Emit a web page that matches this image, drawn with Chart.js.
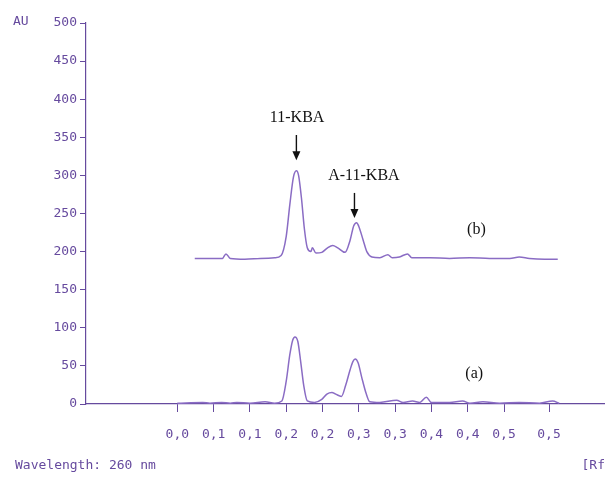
<!DOCTYPE html>
<html>
<head>
<meta charset="utf-8">
<script src="https://cdn.jsdelivr.net/npm/chart.js@4"></script>
<style>
  html, body { margin: 0; padding: 0; background: #fff; }
  #wrap { width: 605px; height: 477px; position: relative; }
</style>
</head>
<body>
<div id="wrap"><canvas id="densChart"></canvas></div>
<script>
// --- Data (Rf vs absorbance units) ---
const rfB = [0.024, 0.045, 0.062, 0.067, 0.073, 0.093, 0.114, 0.134, 0.143, 0.150, 0.155, 0.160, 0.164, 0.167, 0.171, 0.175, 0.179, 0.184, 0.186, 0.191, 0.199, 0.207, 0.214, 0.221, 0.231, 0.238, 0.243, 0.247, 0.250, 0.256, 0.261, 0.268, 0.279, 0.290, 0.296, 0.306, 0.317, 0.323, 0.348, 0.375, 0.403, 0.430, 0.458, 0.471, 0.485, 0.506, 0.524];
const auB = [191, 191, 191, 197, 191, 190, 191, 192, 195, 220, 262, 298, 306, 300, 270, 230, 205, 200, 205, 198, 199, 205, 208, 205, 199, 215, 234, 238, 233, 215, 200, 193, 192, 196, 192, 193, 197, 192, 192, 191, 192, 191, 191, 193, 191, 190, 190];

const rfA = [0.000, 0.035, 0.045, 0.061, 0.073, 0.082, 0.100, 0.121, 0.134, 0.144, 0.150, 0.155, 0.159, 0.162, 0.166, 0.170, 0.174, 0.179, 0.189, 0.199, 0.206, 0.213, 0.218, 0.226, 0.232, 0.238, 0.242, 0.245, 0.249, 0.254, 0.260, 0.265, 0.279, 0.302, 0.311, 0.324, 0.334, 0.343, 0.350, 0.375, 0.393, 0.403, 0.421, 0.444, 0.471, 0.499, 0.517, 0.526];
const auA = [1, 2, 1, 2, 1, 2, 1, 3, 1, 4, 30, 65, 84, 88, 82, 55, 25, 4, 2, 6, 13, 15, 13, 10, 25, 45, 56, 59, 54, 35, 14, 3, 2, 5, 2, 4, 2, 9, 2, 2, 4, 1, 3, 1, 2, 1, 4, 1];

const xTickVals = [0, 0.05, 0.10, 0.15, 0.20, 0.25, 0.30, 0.35, 0.40, 0.45, 0.512];
const xTickLabels = ['0,0', '0,1', '0,1', '0,2', '0,2', '0,3', '0,3', '0,4', '0,4', '0,5', '0,5'];

// peak labels with arrows: [text, x, y, arrowX, arrowTop, arrowBottom] in Rf / AU
const peakLabels = [
    ['11-KBA', 0.165, 375, 0.164, 353, 320],
    ['A-11-KBA', 0.257, 300, 0.244, 277, 244]
];
const traceLabels = [['(b)', 0.412, 228], ['(a)', 0.409, 39]];

const ink = '#664a9e';
const traceColor = '#8a6cc4';
const mono = 'DejaVu Sans Mono';

// --- Extra text and arrows ---
const annotate = {
    id: 'annotate',
    afterDatasetsDraw(chart) {
        const { ctx, scales: { x, y } } = chart;
        ctx.save();
        ctx.fillStyle = '#111';
        ctx.strokeStyle = '#111';
        ctx.font = '16px "Liberation Serif", "Times New Roman", serif';
        ctx.textAlign = 'center';
        ctx.textBaseline = 'middle';
        peakLabels.forEach(([txt, rx, ay, arx, a0, a1]) => {
            ctx.fillText(txt, x.getPixelForValue(rx), y.getPixelForValue(ay));
            const ax = x.getPixelForValue(arx);
            const top = y.getPixelForValue(a0);
            const bot = y.getPixelForValue(a1);
            ctx.lineWidth = 1.4;
            ctx.beginPath();
            ctx.moveTo(ax, top);
            ctx.lineTo(ax, bot - 6);
            ctx.stroke();
            ctx.beginPath();
            ctx.moveTo(ax - 4, bot - 9);
            ctx.lineTo(ax + 4, bot - 9);
            ctx.lineTo(ax, bot);
            ctx.closePath();
            ctx.fill();
        });
        traceLabels.forEach(([txt, rx, ay]) => {
            ctx.fillText(txt, x.getPixelForValue(rx), y.getPixelForValue(ay));
        });

        ctx.fillStyle = ink;
        ctx.font = '13px "' + mono + '"';
        ctx.textAlign = 'left';
        ctx.fillText('AU', 13, 22);
        ctx.fillText('Wavelength: 260 nm', 15, 466);
        ctx.textAlign = 'right';
        ctx.fillText('[Rf', 605, 466);
        ctx.restore();
    }
};

const bg = {
    id: 'bg',
    beforeDraw(chart) {
        const c = chart.ctx;
        c.save();
        c.fillStyle = '#fff';
        c.fillRect(0, 0, chart.width, chart.height);
        c.restore();
    }
};

const toPts = (xs, ys) => xs.map((v, i) => ({ x: v, y: ys[i] }));

new Chart(document.getElementById('densChart').getContext('2d'), {
    type: 'line',
    data: {
        datasets: [
            { label: '(b)', data: toPts(rfB, auB), borderColor: traceColor, borderWidth: 1.5, pointRadius: 0, cubicInterpolationMode: 'monotone' },
            { label: '(a)', data: toPts(rfA, auA), borderColor: traceColor, borderWidth: 1.5, pointRadius: 0, cubicInterpolationMode: 'monotone' }
        ]
    },
    options: {
        responsive: true,
        maintainAspectRatio: false,
        animation: false,
        layout: { padding: { top: 23, right: 0, bottom: 0, left: 0 } },
        plugins: { legend: { display: false }, tooltip: { enabled: false } },
        scales: {
            x: {
                type: 'linear',
                min: -0.1258,
                max: 0.5891,
                afterBuildTicks: (s) => { s.ticks = xTickVals.map(v => ({ value: v })); },
                afterFit: (s) => { s.height = 73; },
                ticks: {
                    autoSkip: false,
                    maxRotation: 0,
                    padding: 15,
                    color: ink,
                    font: { family: mono, size: 13 },
                    callback: (v, i) => xTickLabels[i]
                },
                grid: { display: true, drawOnChartArea: false, drawTicks: true, tickLength: 8, color: ink, lineWidth: 1 },
                border: { display: true, color: ink, width: 1.2 }
            },
            y: {
                min: 0,
                max: 500,
                afterFit: (s) => { s.width = 86; },
                ticks: {
                    stepSize: 50,
                    padding: 3,
                    color: ink,
                    font: { family: mono, size: 13 }
                },
                grid: { display: true, drawOnChartArea: false, drawTicks: true, tickLength: 6, color: ink, lineWidth: 1 },
                border: { display: true, color: ink, width: 1.2 }
            }
        }
    },
    plugins: [bg, annotate]
});
</script>
</body>
</html>
